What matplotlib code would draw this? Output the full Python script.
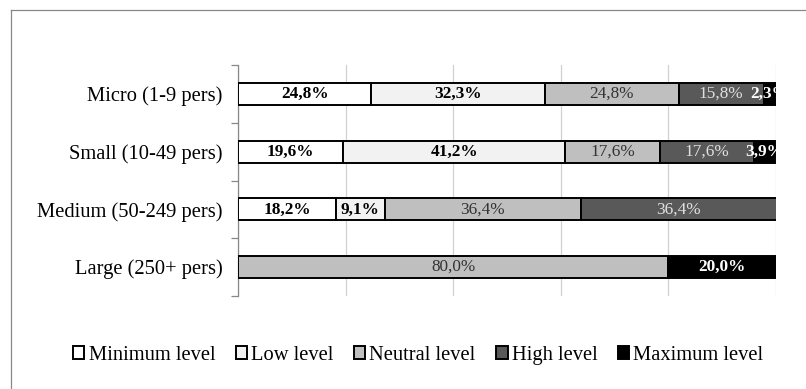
import matplotlib
matplotlib.use("Agg")
import matplotlib.pyplot as plt
from matplotlib.patches import Rectangle
from matplotlib.lines import Line2D
import numpy as np

plt.rcParams["font.family"] = ["Liberation Serif", "DejaVu Serif"]

categories = ["Micro (1-9 pers)", "Small (10-49 pers)",
              "Medium (50-249 pers)", "Large (250+ pers)"]
levels = ["Minimum level", "Low level", "Neutral level", "High level",
          "Maximum level"]
minimum = [24.8, 19.6, 18.2, 0.0]
low = [32.3, 41.2, 9.1, 0.0]
neutral = [24.8, 17.6, 36.4, 80.0]
high = [15.8, 17.6, 36.4, 0.0]
maximum = [2.3, 3.9, 0.0, 20.0]

series = [minimum, low, neutral, high, maximum]
fills = ["#ffffff", "#f2f2f2", "#bfbfbf", "#595959", "#000000"]
label_color = ["black", "black", "#333333", "#e0e0e0", "white"]
label_weight = ["bold", "bold", "normal", "normal", "bold"]

fig = plt.figure(figsize=(8.06, 3.89), dpi=100)
ax = fig.add_axes([238 / 806, 1 - 296 / 389, 538 / 806, 231 / 389])

# outer chart frame
fig.add_artist(Line2D([11 / 806, 11 / 806], [0, 1 - 10 / 389],
                      transform=fig.transFigure, color="#888888", lw=0.9))
fig.add_artist(Line2D([11 / 806, 1], [1 - 10 / 389, 1 - 10 / 389],
                      transform=fig.transFigure, color="#888888", lw=0.9))

y = np.arange(len(categories))
left = np.zeros(len(categories))
for vals, fc, tc, tw, name in zip(series, fills, label_color, label_weight, levels):
    vals = np.array(vals)
    for i, v in enumerate(vals):
        if v <= 0:
            continue
        ax.barh(y[i], v, left=left[i], height=0.38, color=fc,
                edgecolor="black", linewidth=1.4, zorder=3)
        # labels of thin segments run past the plot edge and get cut there
        ax.text(left[i] + v / 2, y[i], f"{v:.1f}%".replace(".", ","),
                ha="center", va="center", fontsize=12.4, color=tc,
                fontweight=tw, zorder=4, clip_on=True)
    left += vals

ax.set_xlim(0, 100)
ax.set_ylim(3.5, -0.5)
ax.set_xticks([0, 20, 40, 60, 80, 100])
ax.tick_params(axis="x", length=0, labelbottom=False)
ax.grid(axis="x", color="#d0d0d0", lw=0.9, zorder=0)

ax.set_yticks(np.arange(-0.5, 4, 1))
ax.set_yticklabels([])
ax.set_yticks(y, minor=True)
ax.set_yticklabels(categories, minor=True, fontsize=14.8)
ax.tick_params(axis="y", which="major", length=5, color="#888888", width=0.9)
ax.tick_params(axis="y", which="minor", length=0, pad=11)

for s in ["top", "right", "bottom"]:
    ax.spines[s].set_visible(False)
ax.spines["left"].set_color("#888888")
ax.spines["left"].set_linewidth(0.9)

handles = [Rectangle((0, 0), 1, 1, facecolor=fc, edgecolor="black", lw=1.4)
           for fc in fills]
fig.legend(handles, levels, loc="center", bbox_to_anchor=(0.519, 0.087),
           ncol=5, frameon=False, fontsize=14.8, handlelength=0.55,
           handleheight=0.55, handletextpad=0.2, columnspacing=1.0)

fig.savefig("out.png", dpi=100)
